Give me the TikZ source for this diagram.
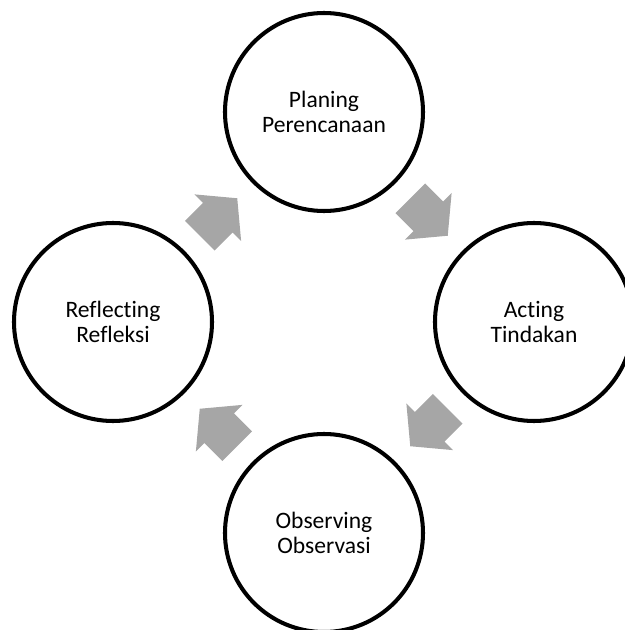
\documentclass[tikz,border=0pt]{standalone}
\usepackage{fontspec}
\setmainfont{Carlito}[Ligatures=NoCommon]
\usetikzlibrary{calc}
\definecolor{arrowgrey}{RGB}{166,166,166}
\begin{document}
\begin{tikzpicture}[line join=round,font=\fontsize{13.4}{14.6}\selectfont,
		stage/.style={circle,draw,line width=2.3pt,minimum size=3.96cm,inner sep=0pt,align=center}]
	\useasboundingbox (0,0) rectangle (12.5,12.6);
	
	\coordinate (P) at (6.48,10.36);
	\coordinate (A) at (10.68,6.16);
	\coordinate (O) at (6.48,1.94);
	\coordinate (R) at (2.26,6.16);
	
	\node[stage] (plan) at (P) {Planing\\Perencanaan};
	\node[stage] (act) at (A) {Acting\\Tindakan};
	\node[stage] (obs) at (O) {Observing\\Observasi};
	\node[stage] (refl) at (R) {Reflecting\\Refleksi};
	
	%block arrows between the stages
	\foreach \a/\b/\r in {refl/plan/45, plan/act/-45, act/obs/225, obs/refl/135}{
		\begin{scope}[shift={($(\a)!0.5!(\b)$)},rotate=\r]
			\fill[arrowgrey] (-0.53,-0.42)--(-0.02,-0.42)--(-0.02,-0.66)--(0.53,0)--(-0.02,0.66)--(-0.02,0.42)--(-0.53,0.42)--cycle;
		\end{scope}
	}
\end{tikzpicture}
\end{document}
